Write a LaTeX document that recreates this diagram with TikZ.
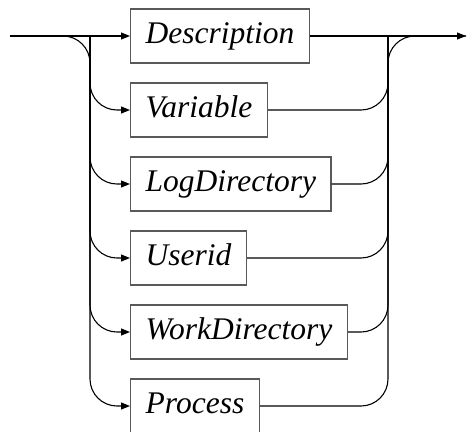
\documentclass[tikz,border=0pt]{standalone}
\usepackage{fontspec}
\setmainfont{Liberation Serif}
\usetikzlibrary{arrows.meta}
\begin{document}
\begin{tikzpicture}[x=1pt,y=-1pt,
  term/.style={draw=black!65, line width=1.4pt, anchor=west, inner xsep=15pt,
    minimum height=54pt, text height=22pt, text depth=7pt,
    font=\fontsize{31.5}{36}\selectfont\itshape},
  conn/.style={draw=black, line width=1.1pt, rounded corners=27pt},
  arr/.style={conn, -{Triangle[length=9pt,width=7pt]}}]
\useasboundingbox (0,0) rectangle (467,432);
\coordinate (start) at (10,36);
\coordinate (L) at (90,36);
\coordinate (R) at (388,36);
\coordinate (end) at (466,36);
\node[term] (desc) at (130,36) {Description};
\node[term] (var)  at (130,110) {Variable};
\node[term] (log)  at (130,184) {LogDirectory};
\node[term] (user) at (130,258) {Userid};
\node[term] (work) at (130,332) {WorkDirectory};
\node[term] (proc) at (130,406) {Process};
% main line
\draw[arr] (start) -- (desc.west);
\draw[arr] (desc.east) -- (end);
% left bus
\draw[arr] (start) -- (L) |- (proc.west);
\draw[arr] (L) |- (var.west);
\draw[arr] (L) |- (log.west);
\draw[arr] (L) |- (user.west);
\draw[arr] (L) |- (work.west);
% right bus
\draw[conn] (proc.east) -| (R) -- (end);
\draw[conn] (var.east) -| (R);
\draw[conn] (log.east) -| (R);
\draw[conn] (user.east) -| (R);
\draw[conn] (work.east) -| (R);
\end{tikzpicture}
\end{document}
